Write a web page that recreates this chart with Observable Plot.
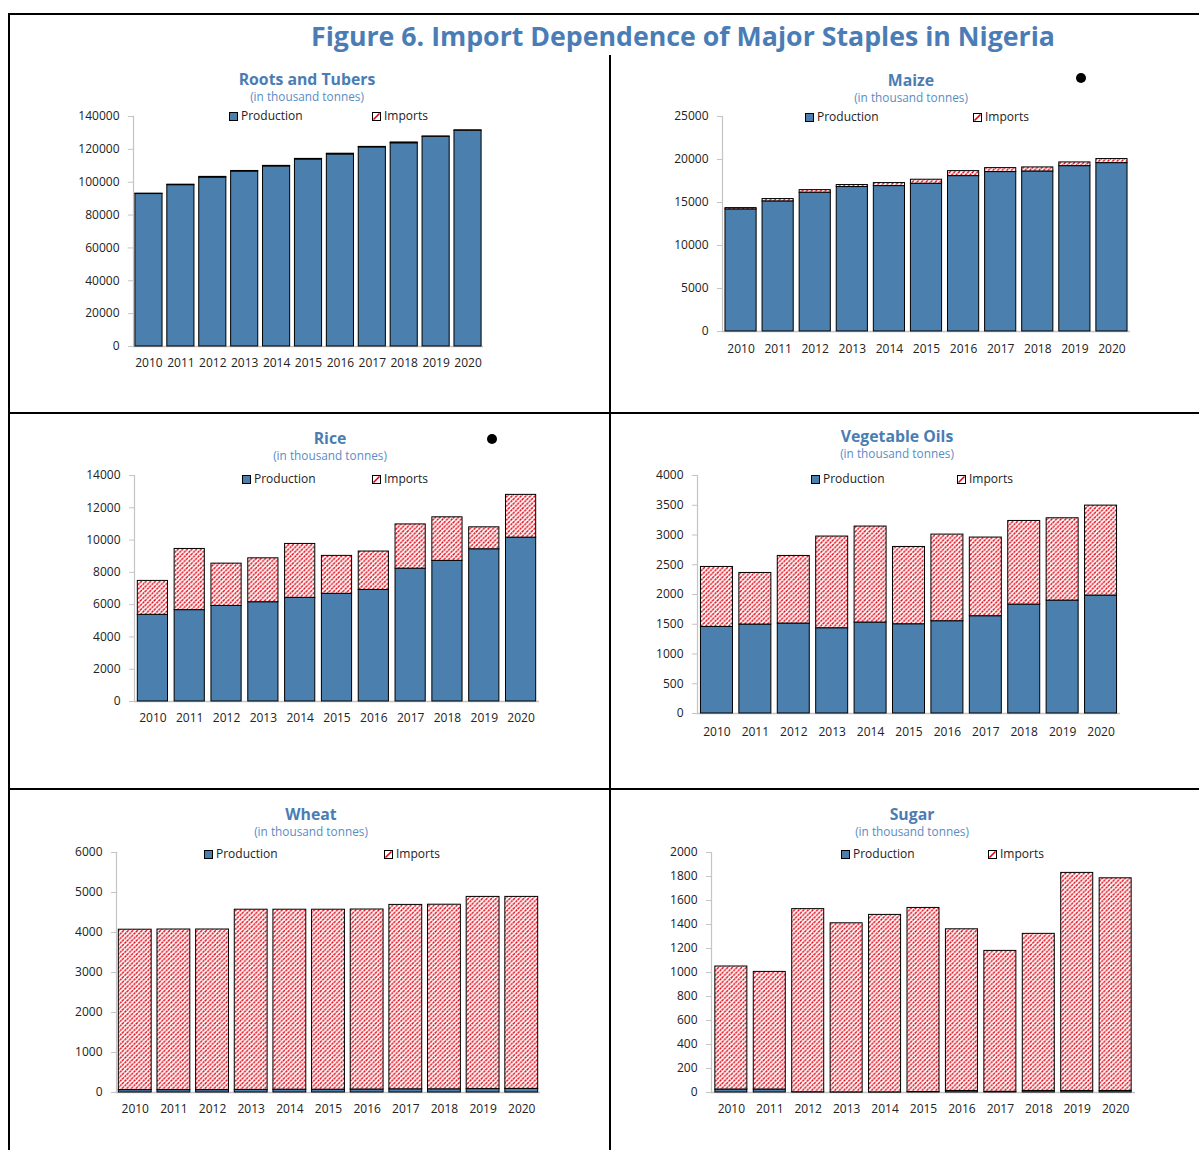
<!DOCTYPE html>
<html><head><meta charset="utf-8">
<script src="https://cdn.jsdelivr.net/npm/d3@7"></script>
<script src="https://cdn.jsdelivr.net/npm/@observablehq/plot@0.6"></script>
<style>
body{margin:0;background:#fff;font-family:"Open Sans",sans-serif;}
#root{position:relative;width:1199px;height:1150px;overflow:hidden;background:#fff;}
.line{position:absolute;background:#000;}
.ptitle{position:absolute;transform:translate(-50%,-50%);white-space:nowrap;color:#4a7db3;font-weight:700;font-size:15.8px;line-height:1;}
.psub{position:absolute;transform:translate(-50%,-50%);white-space:nowrap;color:#5a8cc4;font-size:11.8px;line-height:1;}
.leg{position:absolute;transform:translateY(-50%);display:flex;align-items:center;font-size:12px;color:#222;white-space:nowrap;line-height:1;}
.leg svg{margin-right:3px;}
.plot{position:absolute;}
.dot{position:absolute;width:10px;height:10px;border-radius:50%;background:#000;}
</style>
</head><body>
<svg width="0" height="0" style="position:absolute">
<defs>
<pattern id="hatch" patternUnits="userSpaceOnUse" width="4.6" height="4.6">
<rect width="4.6" height="4.6" fill="#fff"/>
<path d="M0,4.6L4.6,0" stroke="#e3000f" stroke-width="1.35" stroke-dasharray="2.45 0.8"/>
<path d="M-1,1L1,-1M3.6,5.6L5.6,3.6" stroke="#e3000f" stroke-width="1.35"/>
</pattern>
</defs></svg>
<div id="root"></div>
<script>
// ---- data ----
const years = ["2010","2011","2012","2013","2014","2015","2016","2017","2018","2019","2020"];

const rootsProduction = [92800, 98200, 102800, 106500, 109600, 113800, 116900, 121200, 123700, 127600, 131300];
const rootsImports    = [250, 300, 450, 350, 350, 400, 450, 300, 500, 250, 300];
const rootsTicks = [0, 20000, 40000, 60000, 80000, 100000, 120000, 140000];

const maizeProduction = [14200, 15130, 16140, 16800, 16910, 17180, 18070, 18540, 18610, 19230, 19580];
const maizeImports    = [150, 270, 300, 230, 350, 470, 580, 460, 470, 430, 470];
const maizeTicks = [0, 5000, 10000, 15000, 20000, 25000];

const riceProduction = [5370, 5660, 5920, 6150, 6420, 6670, 6910, 8230, 8710, 9430, 10150];
const riceImports    = [2100, 3790, 2620, 2720, 3340, 2350, 2380, 2740, 2700, 1360, 2650];
const riceTicks = [0, 2000, 4000, 6000, 8000, 10000, 12000, 14000];

const vegProduction = [1455, 1495, 1512, 1433, 1529, 1500, 1551, 1635, 1831, 1898, 1982];
const vegImports    = [1008, 867, 1136, 1541, 1613, 1299, 1456, 1322, 1405, 1383, 1512];
const vegTicks = [0, 500, 1000, 1500, 2000, 2500, 3000, 3500, 4000];

const wheatProduction = [60, 60, 60, 65, 70, 70, 75, 80, 80, 85, 90];
const wheatImports    = [4010, 4015, 4015, 4505, 4500, 4500, 4500, 4610, 4615, 4805, 4800];
const wheatTicks = [0, 1000, 2000, 3000, 4000, 5000, 6000];

const sugarProduction = [25, 25, 2, 1, 1, 4, 12, 6, 12, 12, 12];
const sugarImports    = [1025, 980, 1526, 1409, 1479, 1534, 1348, 1174, 1310, 1818, 1773];
const sugarTicks = [0, 200, 400, 600, 800, 1000, 1200, 1400, 1600, 1800, 2000];

const mainTitle = "Figure 6. Import Dependence of Major Staples in Nigeria";
const unitLabel = "(in thousand tonnes)";
const seriesNames = ["Production", "Imports"];

// ---- layout ----
const BLUE = "#4a7fae";
const root = document.getElementById("root");

function addLine(l, t, w, h){
  const d = document.createElement("div"); d.className = "line";
  Object.assign(d.style, {left:l+"px", top:t+"px", width:w+"px", height:h+"px"});
  root.appendChild(d);
}
addLine(8, 13, 1191, 2);
addLine(8, 13, 2, 1137);
addLine(8, 412, 1191, 2);
addLine(8, 788, 1191, 2);
addLine(609, 55, 2, 1095);

// main title
const ns = "http://www.w3.org/2000/svg";
const tsvg = document.createElementNS(ns, "svg");
tsvg.setAttribute("width", 1199); tsvg.setAttribute("height", 60);
tsvg.style.position = "absolute"; tsvg.style.left = "0px"; tsvg.style.top = "0px";
const tt = document.createElementNS(ns, "text");
tt.setAttribute("x", 683); tt.setAttribute("y", 46);
tt.setAttribute("text-anchor", "middle");
tt.setAttribute("font-family", "'Open Sans', sans-serif");
tt.setAttribute("font-weight", "700");
tt.setAttribute("font-size", "27");
tt.setAttribute("fill", "#4a7db5");
tt.setAttribute("textLength", "744");
tt.setAttribute("lengthAdjust", "spacingAndGlyphs");
tt.textContent = mainTitle;
tsvg.appendChild(tt);
root.appendChild(tsvg);

function addDot(x, y){
  const d = document.createElement("div"); d.className = "dot";
  d.style.left = (x-5)+"px"; d.style.top = (y-5)+"px"; root.appendChild(d);
}
addDot(1081, 78);
addDot(492, 439);

function swatch(kind){
  const s = document.createElementNS(ns, "svg");
  s.setAttribute("width", 9); s.setAttribute("height", 9);
  const r = document.createElementNS(ns, "rect");
  r.setAttribute("x", 0.5); r.setAttribute("y", 0.5); r.setAttribute("width", 8); r.setAttribute("height", 8);
  r.setAttribute("stroke", "#000"); r.setAttribute("stroke-width", 1);
  r.setAttribute("fill", kind === 0 ? BLUE : "#fff");
  s.appendChild(r);
  if (kind === 1){
    const l = document.createElementNS(ns, "line");
    l.setAttribute("x1", 1.5); l.setAttribute("y1", 7.5); l.setAttribute("x2", 7.5); l.setAttribute("y2", 1.5);
    l.setAttribute("stroke", "#e3000f"); l.setAttribute("stroke-width", 1.6);
    s.appendChild(l);
  }
  return s;
}

function addText(cls, txt, x, y){
  const d = document.createElement("div"); d.className = cls; d.textContent = txt;
  d.style.left = x+"px"; d.style.top = y+"px"; root.appendChild(d);
}

function panel(cfg){
  addText("ptitle", cfg.name, cfg.tx, cfg.ty);
  addText("psub", unitLabel, cfg.tx, cfg.ty + 17);
  seriesNames.forEach((n, k) => {
    const d = document.createElement("div"); d.className = "leg";
    d.style.left = cfg.legX[k]+"px"; d.style.top = cfg.legY+"px";
    d.appendChild(swatch(k));
    const sp = document.createElement("span"); sp.textContent = n; d.appendChild(sp);
    root.appendChild(d);
  });

  const rows = years.map((y, i) => ({year: y, prod: cfg.prod[i], total: cfg.prod[i] + cfg.imp[i]}));
  const left = cfg.axisX - 72, top = cfg.top - 12;
  const width = cfg.right + 6 - left, height = cfg.bottom + 34 - top;
  const chart = Plot.plot({
    width, height,
    marginLeft: cfg.axisX - left, marginTop: cfg.top - top,
    marginRight: left + width - cfg.right, marginBottom: top + height - cfg.bottom,
    style: {fontFamily: "'Open Sans', sans-serif", fontSize: "12px", color: "#222", background: "transparent", overflow: "visible"},
    x: {domain: years, paddingInner: cfg.pi, paddingOuter: cfg.po, round: false, axis: null},
    y: {domain: [0, cfg.ticks[cfg.ticks.length-1]], axis: null},
    marks: [
      Plot.ruleY([0], {stroke: "#c4c4c4", strokeWidth: 1.5}),
      Plot.frame({anchor: "left", stroke: "#c4c4c4", strokeWidth: 1.2}),
      Plot.barY(rows, {x: "year", y1: 0, y2: "prod", fill: BLUE, stroke: "#000", strokeWidth: 1}),
      Plot.barY(rows, {x: "year", y1: "prod", y2: "total", fill: "url(#hatch)", stroke: "#000", strokeWidth: 1}),
      Plot.axisY({ticks: cfg.ticks, tickSize: 5, tickPadding: 9, stroke: "#c4c4c4", fill: "#222", tickFormat: d3.format("d"), label: null}),
      Plot.axisX({tickSize: 0, tickPadding: cfg.xpad, fill: "#222", label: null})
    ]
  });
  chart.classList.add("plot");
  chart.style.left = left + "px"; chart.style.top = top + "px";
  root.appendChild(chart);
}

panel({name: "Roots and Tubers", prod: rootsProduction, imp: rootsImports, ticks: rootsTicks,
  axisX: 133, top: 116, bottom: 346, right: 483, pi: 0.15, po: 0.06, xpad: 12,
  tx: 307, ty: 80, legX: [229, 372], legY: 116});
panel({name: "Maize", prod: maizeProduction, imp: maizeImports, ticks: maizeTicks,
  axisX: 722, top: 116, bottom: 331, right: 1130, pi: 0.16, po: 0.08, xpad: 13,
  tx: 911, ty: 81, legX: [805, 973], legY: 117});
panel({name: "Rice", prod: riceProduction, imp: riceImports, ticks: riceTicks,
  axisX: 134, top: 475, bottom: 701, right: 539, pi: 0.18, po: 0.09, xpad: 12,
  tx: 330, ty: 439, legX: [242, 372], legY: 479});
panel({name: "Vegetable Oils", prod: vegProduction, imp: vegImports, ticks: vegTicks,
  axisX: 697, top: 475, bottom: 713, right: 1120, pi: 0.167, po: 0.09, xpad: 14,
  tx: 897, ty: 437, legX: [811, 957], legY: 479});
panel({name: "Wheat", prod: wheatProduction, imp: wheatImports, ticks: wheatTicks,
  axisX: 116, top: 852, bottom: 1092, right: 540, pi: 0.15, po: 0.06, xpad: 12,
  tx: 311, ty: 815, legX: [204, 384], legY: 854});
panel({name: "Sugar", prod: sugarProduction, imp: sugarImports, ticks: sugarTicks,
  axisX: 711, top: 852, bottom: 1092, right: 1135, pi: 0.167, po: 0.1, xpad: 12,
  tx: 912, ty: 815, legX: [841, 988], legY: 854});
</script>
</body></html>
